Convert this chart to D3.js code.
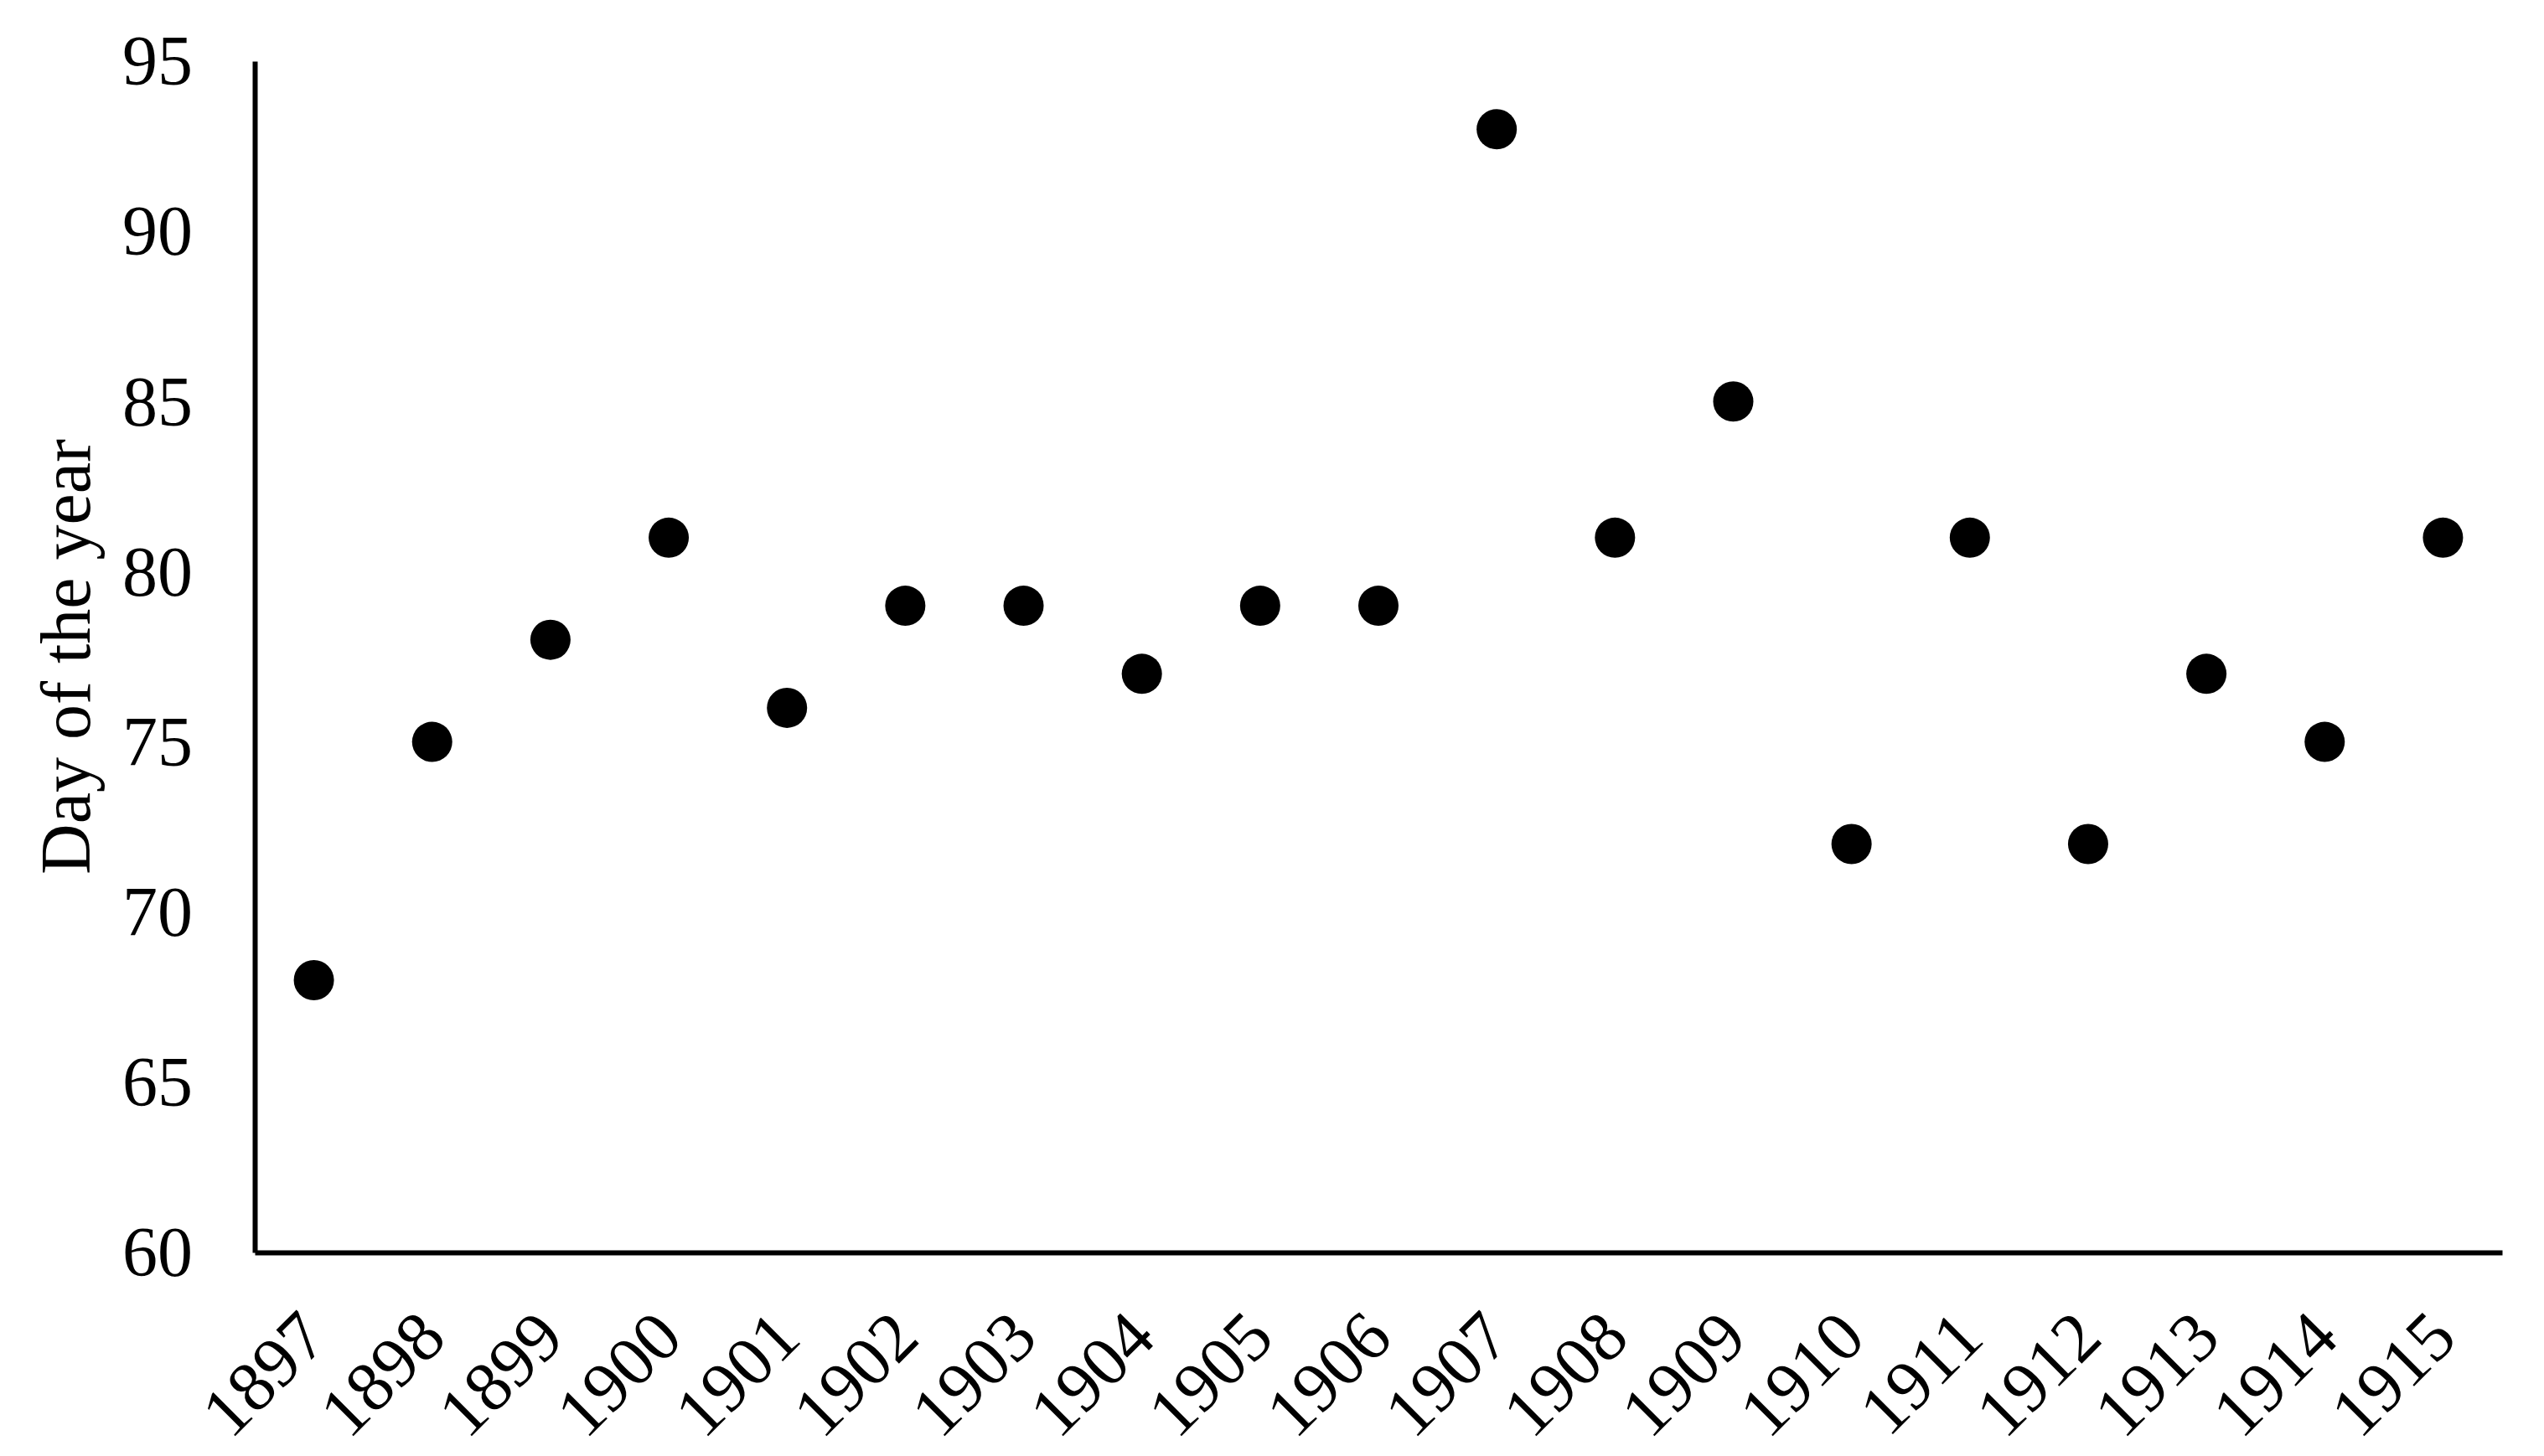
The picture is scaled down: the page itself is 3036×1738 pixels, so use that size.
<!DOCTYPE html>
<html>
<head>
<meta charset="utf-8">
<script src="https://cdn.jsdelivr.net/npm/d3@7"></script>
<style>
  body { margin: 0; background: #fff; }
  text { font-family: "Liberation Serif", "Times New Roman", serif; fill: #000; }
</style>
</head>
<body>
<svg id="chart"></svg>
<script>
var years = ["1897","1898","1899","1900","1901","1902","1903","1904","1905","1906",
             "1907","1908","1909","1910","1911","1912","1913","1914","1915"];
var days = [68, 75, 78, 81, 76, 79, 79, 77, 79, 79, 93, 81, 85, 72, 81, 72, 77, 75, 81];
var yTicks = [60, 65, 70, 75, 80, 85, 90, 95];

var data = years.map(function(y, i) { return {year: y, day: days[i]}; });

var W = 3036, H = 1738;
var margin = {top: 73, right: 50, bottom: 243, left: 304},
  width = W - margin.left - margin.right,
  height = H - margin.top - margin.bottom;

var svg = d3.select("#chart").attr("width", W).attr("height", H);
svg.append("rect").attr("width", W).attr("height", H).attr("fill", "#fff");

var g = svg.append("g").attr("transform", "translate(" + margin.left + "," + margin.top + ")");

var x = d3.scaleBand().domain(years).range([0, width]);
var y = d3.scaleLinear().domain([60, 95]).range([height, 0]);

// y axis
var yAxis = g.append("g")
  .call(d3.axisLeft(y).tickValues(yTicks).tickSize(0).tickPadding(74));
yAxis.select(".domain").attr("stroke", "#000").attr("stroke-width", 6);
yAxis.selectAll("text").attr("font-size", 84).attr("dy", "0.33em")
  .style("font-family", "'Liberation Serif', serif");

// x axis, labels turned 45 degrees
var xAxis = g.append("g")
  .attr("transform", "translate(0," + height + ")")
  .call(d3.axisBottom(x).tickSize(0).tickPadding(0));
xAxis.select(".domain").attr("stroke", "#000").attr("stroke-width", 6);
xAxis.selectAll("text")
  .attr("font-size", 84)
  .style("font-family", "'Liberation Serif', serif")
  .attr("text-anchor", "end")
  .attr("y", 0)
  .attr("transform", "translate(0,86) rotate(-45)")
  .attr("dy", "0.33em");

// axis title
g.append("text")
  .attr("transform", "rotate(-90)")
  .attr("x", -height / 2)
  .attr("y", 107 - margin.left)
  .attr("text-anchor", "middle")
  .attr("font-size", 84)
  .text("Day of the year");

// points
g.selectAll(".dot")
  .data(data)
  .enter().append("circle")
  .attr("class", "dot")
  .attr("cx", function(d) { return x(d.year) + x.bandwidth() / 2; })
  .attr("cy", function(d) { return y(d.day); })
  .attr("r", 24)
  .attr("fill", "#000");
</script>
</body>
</html>
